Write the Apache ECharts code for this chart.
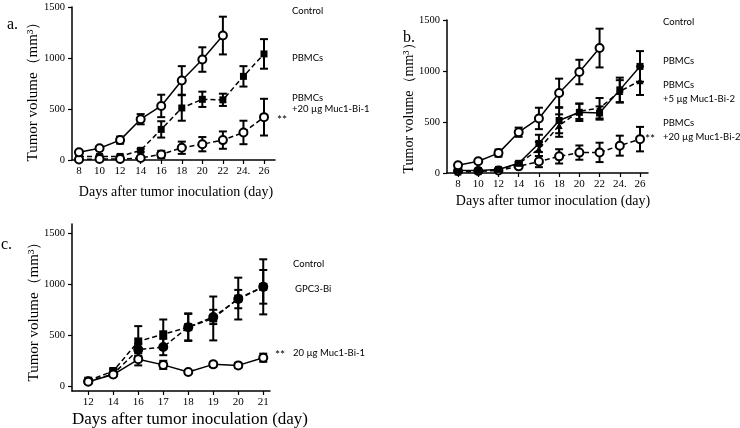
<!DOCTYPE html>
<html><head><meta charset="utf-8">
<script src="https://cdn.jsdelivr.net/npm/echarts@6/dist/echarts.min.js"></script>
<style>html,body{margin:0;padding:0;background:#fff}#c{width:740px;height:428px}</style>
</head><body><div id="c"></div>
<script>
// ---------- data ----------
const aDays = [8,10,12,14,16,18,20,22,24,26];
const aTickLabels = ['8','10','12','14','16','18','20','22','24.','26'];
const aControl = [75,115,195,400,530,780,985,1220];
const aControlErr = [15,15,35,50,110,140,120,185];
const aPBMC = [35,35,35,95,300,510,595,590,820,1040];
const aPBMCErr = [10,10,10,15,80,125,75,60,100,145];
const aMuc = [5,10,10,20,55,120,155,195,270,420];
const aMucErr = [5,5,5,10,35,60,70,85,115,180];

const bDays = [8,10,12,14,16,18,20,22,24,26];
const bTickLabels = ['8','10','12','14','16','18','20','22','24.','26'];
const bControl = [75,115,195,400,535,785,990,1225];
const bControlErr = [15,15,35,45,105,140,120,190];
const bPBMC = [25,25,35,95,290,515,595,588,815,1045];
const bPBMCErr = [8,8,10,15,85,125,85,65,120,150];
const b5 = [10,15,30,90,235,465,605,635,800,905];
const b5Err = [5,5,8,15,70,110,75,100,110,140];
const b20 = [20,20,25,65,112,163,200,202,268,332];
const b20Err = [8,8,8,15,55,70,70,95,98,120];

const cDays = ['12','14','16','17','18','19','20','21'];
const cControl = [50,120,360,385,580,680,855,975];
const cControlErr = [10,15,60,80,130,70,90,165];
const cGPC3 = [55,150,440,510,580,665,860,975];
const cGPC3Err = [15,20,150,145,135,215,205,270];
const cMuc = [45,115,265,210,140,215,205,280];
const cMucErr = [10,15,60,40,15,25,25,40];

const yTicks = [0,500,1000,1500];

// ---------- helpers ----------
const chart = echarts.init(document.getElementById('c'), null, {renderer:'canvas'});
const serif = 'Liberation Serif';
const sans = 'Lato';

function pts(xs, ys){ return ys.map((v,i)=>[xs[i], v]); }
function errPts(xs, ys, es){ return ys.map((v,i)=>[xs[i], v, es[i]]); }
function errSeries(idx, data){
  return {type:'custom', xAxisIndex:idx, yAxisIndex:idx, z:1, silent:true,
    encode:{x:0,y:1},
    renderItem:function(params, api){
      const x=api.value(0), y=api.value(1), e=api.value(2);
      const t=api.coord([x,y+e]), b=api.coord([x,y-e]);
      const w=4, st={stroke:'#000', lineWidth:2};
      return {type:'group', children:[
        {type:'line', shape:{x1:t[0],y1:t[1],x2:b[0],y2:b[1]}, style:st},
        {type:'line', shape:{x1:t[0]-w,y1:t[1],x2:t[0]+w,y2:t[1]}, style:st},
        {type:'line', shape:{x1:b[0]-w,y1:b[1],x2:b[0]+w,y2:b[1]}, style:st}
      ]};
    },
    data:data};
}
function lineSeries(idx, data, opts){
  return {type:'line', xAxisIndex:idx, yAxisIndex:idx, z:3, data:data,
    symbol:opts.symbol, symbolSize:opts.size, showSymbol:true, animation:false,
    lineStyle:{color:'#000', width:1.5, type:opts.dashed?[5,3]:'solid'},
    itemStyle:opts.open?{color:'#fff', borderColor:'#000', borderWidth:2}:{color:'#000', borderColor:'#000', borderWidth:0}};
}
function xAx(idx, min, max, ticks, fmt, fs){
  return {type:'value', gridIndex:idx, min:min, max:max,
    axisLine:{onZero:false, lineStyle:{color:'#000', width:1.5}},
    axisTick:{show:true, customValues:ticks, length:4, lineStyle:{color:'#000', width:1.2}},
    axisLabel:{customValues:ticks, formatter:fmt, color:'#000', fontFamily:serif, fontSize:fs, margin:6},
    splitLine:{show:false}};
}
function yAx(idx, min, max, fs){
  return {type:'value', gridIndex:idx, min:min, max:max,
    axisLine:{show:true, onZero:false, lineStyle:{color:'#000', width:1.5}},
    axisTick:{show:true, customValues:yTicks, length:4, lineStyle:{color:'#000', width:1.2}},
    axisLabel:{customValues:yTicks, formatter:v=>String(v), color:'#000', fontFamily:serif, fontSize:fs, margin:7},
    splitLine:{show:false}};
}
function txt(x, y, s, o){
  o = o||{};
  return {type:'text', x:x, y:y, rotation:o.rot||0,
    style:{text:s, fill:'#000', font:(o.font||('9.5px '+sans)), align:o.align||'left', verticalAlign:o.va||'middle'}};
}

const cIdx = cDays.map((d,i)=>i);

const option = {
  animation:false,
  backgroundColor:'#fff',
  grid:[
    {left:72, top:7, width:203, height:153},
    {left:447, top:20, width:201, height:153},
    {left:72, top:224, width:198, height:167}
  ],
  xAxis:[
    xAx(0, 7.32, 27.07, aDays, v=>aTickLabels[aDays.indexOf(v)], 11),
    xAx(1, 6.91, 26.79, bDays, v=>bTickLabels[bDays.indexOf(v)], 11),
    xAx(2, -0.65, 7.27, cIdx, v=>cDays[v], 11)
  ],
  yAxis:[ yAx(0, 0, 1500, 10.5), yAx(1, 0, 1500, 10.5), yAx(2, -46, 1591, 10.5) ],
  series:[
    errSeries(0, errPts(aDays, aControl, aControlErr)),
    errSeries(0, errPts(aDays, aPBMC, aPBMCErr)),
    errSeries(0, errPts(aDays, aMuc, aMucErr)),
    lineSeries(0, pts(aDays, aPBMC), {symbol:'rect', size:7, dashed:true}),
    lineSeries(0, pts(aDays, aMuc), {symbol:'circle', size:8, dashed:true, open:true}),
    lineSeries(0, pts(aDays, aControl), {symbol:'circle', size:8, open:true}),

    errSeries(1, errPts(bDays, bControl, bControlErr)),
    errSeries(1, errPts(bDays, bPBMC, bPBMCErr)),
    errSeries(1, errPts(bDays, b5, b5Err)),
    errSeries(1, errPts(bDays, b20, b20Err)),
    lineSeries(1, pts(bDays, b5), {symbol:'triangle', size:7, dashed:true}),
    lineSeries(1, pts(bDays, b20), {symbol:'circle', size:8, dashed:true, open:true}),
    lineSeries(1, pts(bDays, bPBMC), {symbol:'rect', size:7}),
    lineSeries(1, pts(bDays, bControl), {symbol:'circle', size:8, open:true}),

    errSeries(2, errPts(cIdx, cControl, cControlErr)),
    errSeries(2, errPts(cIdx, cGPC3, cGPC3Err)),
    errSeries(2, errPts(cIdx, cMuc, cMucErr)),
    lineSeries(2, pts(cIdx, cGPC3), {symbol:'rect', size:8, dashed:true}),
    lineSeries(2, pts(cIdx, cControl), {symbol:'circle', size:10, dashed:true}),
    lineSeries(2, pts(cIdx, cMuc), {symbol:'circle', size:8, open:true})
  ],
  graphic:[
    txt(7, 25, 'a.', {font:'16px '+serif}),
    txt(403, 38, 'b.', {font:'16px '+serif}),
    txt(1, 245, 'c.', {font:'16px '+serif}),
    txt(33, 88, 'Tumor volume（mm³）', {rot:Math.PI/2, align:'center', font:'15px '+serif}),
    txt(409, 105, 'Tumor volume（mm³）', {rot:Math.PI/2, align:'center', font:'14px '+serif}),
    txt(34, 308, 'Tumor volume（mm³）', {rot:Math.PI/2, align:'center', font:'15px '+serif}),
    txt(176, 192, 'Days after tumor inoculation (day)', {align:'center', font:'14px '+serif}),
    txt(553, 201, 'Days after tumor inoculation (day)', {align:'center', font:'14px '+serif}),
    txt(190, 420, 'Days after tumor inoculation (day)', {align:'center', font:'17px '+serif}),

    txt(292, 11, 'Control'),
    txt(292, 58, 'PBMCs'),
    txt(292, 98, 'PBMCs'),
    txt(292, 109, '+20 µg Muc1-Bi-1'),
    txt(277, 120, '**', {font:'12px '+sans}),

    txt(663, 22, 'Control'),
    txt(663, 61, 'PBMCs'),
    txt(663, 85, 'PBMCs'),
    txt(663, 99, '+5 µg Muc1-Bi-2'),
    txt(663, 123, 'PBMCs'),
    txt(663, 137, '+20 µg Muc1-Bi-2'),
    txt(645, 139, '**', {font:'12px '+sans}),

    txt(293, 264, 'Control'),
    txt(295, 289, 'GPC3-Bi'),
    txt(293, 353, '20 µg Muc1-Bi-1'),
    txt(275, 355, '**', {font:'12px '+sans})
  ]
};
chart.setOption(option);
</script></body></html>
